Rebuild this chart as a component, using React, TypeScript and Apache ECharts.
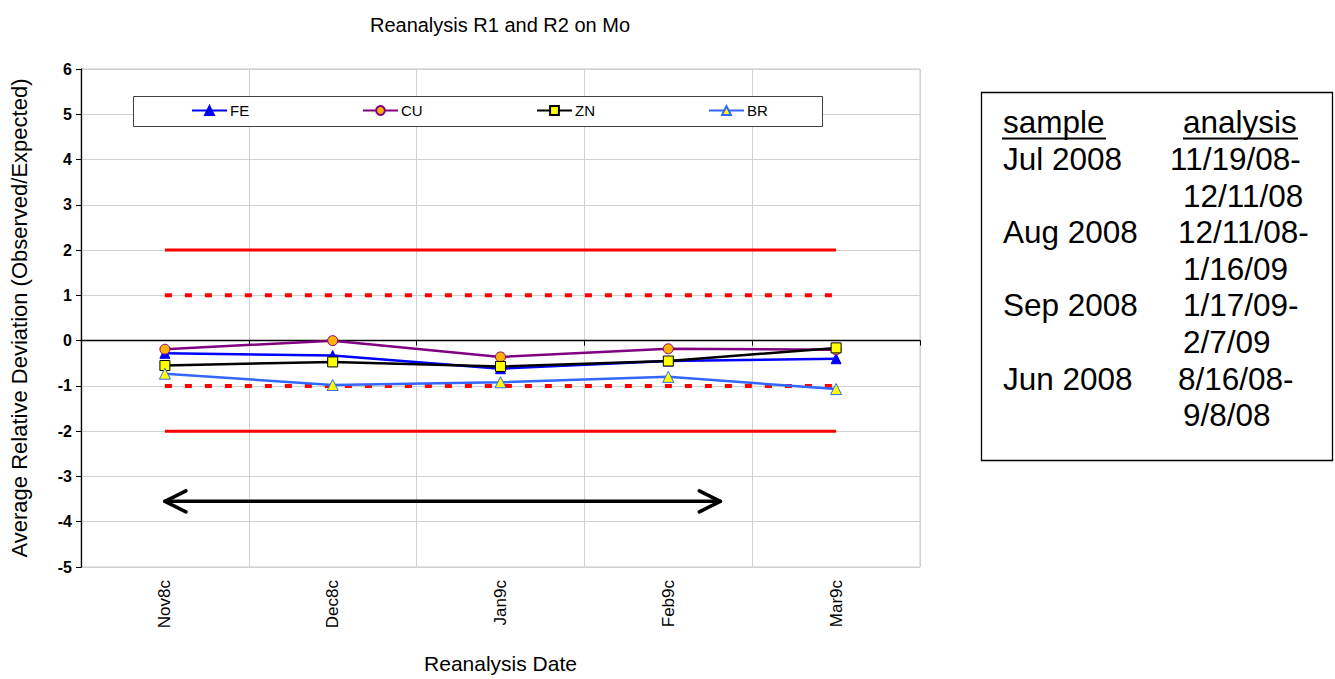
import React, { useEffect, useRef } from "react";
import * as echarts from "echarts";

const categories = ["Nov8c", "Dec8c", "Jan9c", "Feb9c", "Mar9c"];
const feValues = [-0.28, -0.33, -0.62, -0.45, -0.4];
const cuValues = [-0.19, 0.0, -0.36, -0.18, -0.2];
const znValues = [-0.55, -0.47, -0.57, -0.45, -0.16];
const brValues = [-0.73, -0.98, -0.92, -0.8, -1.07];
const upperLimit = [2, 2, 2, 2, 2];
const upperWarn = [1, 1, 1, 1, 1];
const lowerWarn = [-1, -1, -1, -1, -1];
const lowerLimit = [-2, -2, -2, -2, -2];
// arrow: [startIndex, endIndex, value]
const arrowSpan = [[0, 3.31, -3.55]];

const sampleHeader = "sample";
const analysisHeader = "analysis";
const sampleLabels = ["Jul 2008", "Aug 2008", "Sep 2008", "Jun 2008"];
const analysisFirst = ["11/19/08-", "12/11/08-", "1/17/09-", "8/16/08-"];
const analysisSecond = ["12/11/08", "1/16/09", "2/7/09", "9/8/08"];

const FONT = '"Liberation Sans", Arial, sans-serif';

export default function App() {
  const ref = useRef<HTMLDivElement>(null);
  useEffect(() => {
    if (!ref.current) return;
    const chart = echarts.init(ref.current, undefined, { renderer: "svg" });

    const legendLefts = [191, 362, 536, 708];
    const legendNames = ["FE", "CU", "ZN", "BR"];

    const refLine = (data: number[], dashed: boolean) => ({
      type: "line",
      data,
      xAxisIndex: 0,
      yAxisIndex: 0,
      symbol: "none",
      silent: true,
      z: 1,
      lineStyle: {
        color: "#ff0000",
        width: dashed ? 4 : 3,
        type: dashed ? [7, 13] : "solid",
      },
    });

    const boxTexts: any[] = [];
    const rowBase = 170;
    const rowStep = 36.6;
    const boxFont = 31.5;
    const firstLefts = [1170, 1178, 1183, 1178];
    const txt = (text: string, x: number, baseline: number) => ({
      type: "text",
      x,
      y: baseline - 0.3465 * boxFont,
      style: { text, font: `${boxFont}px ${FONT}`, fill: "#000", verticalAlign: "middle" },
    });
    boxTexts.push(txt(sampleHeader, 1003, 133));
    boxTexts.push(txt(analysisHeader, 1183, 133));
    boxTexts.push({
      type: "line",
      shape: { x1: 1002, y1: 138.5, x2: 1106, y2: 138.5 },
      style: { stroke: "#000", lineWidth: 2 },
    });
    boxTexts.push({
      type: "line",
      shape: { x1: 1183, y1: 138.5, x2: 1298, y2: 138.5 },
      style: { stroke: "#000", lineWidth: 2 },
    });
    sampleLabels.forEach((s, i) => {
      const b1 = rowBase + rowStep * 2 * i;
      const b2 = b1 + rowStep;
      boxTexts.push(txt(s, 1003, b1));
      boxTexts.push(txt(analysisFirst[i], firstLefts[i], b1));
      boxTexts.push(txt(analysisSecond[i], 1183, b2));
    });

    chart.setOption({
      animation: false,
      backgroundColor: "#ffffff",
      textStyle: { fontFamily: FONT },
      title: {
        text: "Reanalysis R1 and R2 on Mo",
        left: 495,
        top: 10,
        textAlign: "center",
        textStyle: { fontSize: 20, fontWeight: "normal", color: "#000", fontFamily: FONT },
      },
      legend: legendNames.map((n, i) => ({
        data: [n],
        left: legendLefts[i],
        top: 103,
        itemWidth: 35,
        itemHeight: 11,
        itemGap: 4,
        padding: 0,
        selectedMode: false,
        textStyle: { fontSize: 15, color: "#000", fontFamily: FONT, padding: [0, 0, 0, -2] },
      })),
      grid: {
        left: 70,
        top: 69,
        width: 850,
        height: 515,
        show: true,
        borderColor: "#c8c8c8",
        borderWidth: 1,
        backgroundColor: "transparent",
      },
      xAxis: [
        {
          type: "category",
          data: categories,
          boundaryGap: true,
          axisLine: { onZero: true, lineStyle: { color: "#000", width: 1.3 } },
          axisTick: { show: true, interval: 0, length: 5, lineStyle: { color: "#000" } },
          axisLabel: { show: false },
          splitLine: { show: true, interval: 0, lineStyle: { color: "#d0d0d0", width: 1 } },
        },
        {
          type: "category",
          data: categories,
          position: "bottom",
          boundaryGap: true,
          axisLine: { show: false },
          axisTick: { show: false },
          splitLine: { show: false },
          axisLabel: {
            rotate: 90,
            margin: 13,
            fontSize: 17,
            color: "#000",
            fontFamily: FONT,
            interval: 0,
          },
          name: "Reanalysis Date",
          nameLocation: "middle",
          nameGap: 86,
          nameTextStyle: { fontSize: 21, color: "#000", fontFamily: FONT },
        },
        {
          type: "value",
          min: -0.5,
          max: 4.5,
          show: false,
        },
      ],
      yAxis: {
        type: "value",
        min: -5,
        max: 6,
        interval: 1,
        axisLine: { show: true, onZero: false, lineStyle: { color: "#000", width: 1.3 } },
        axisTick: { show: true, length: 5, lineStyle: { color: "#000" } },
        axisLabel: { fontSize: 16, fontWeight: "bold", color: "#000", margin: 9, fontFamily: FONT },
        splitLine: { show: true, lineStyle: { color: "#d0d0d0", width: 1 } },
        name: "Average Relative Deviation (Observed/Expected)",
        nameLocation: "middle",
        nameGap: 51,
        nameTextStyle: { fontSize: 22, color: "#000", fontFamily: FONT },
      },
      graphic: [
        {
          type: "rect",
          z: 3,
          shape: { x: 133.5, y: 96.5, width: 689, height: 30 },
          style: { fill: "#fff", stroke: "#404040", lineWidth: 1 },
        },
        {
          type: "rect",
          shape: { x: 981.5, y: 92.5, width: 351, height: 368 },
          style: { fill: "#fff", stroke: "#000", lineWidth: 1.3 },
        },
        ...boxTexts,
      ],
      series: [
        refLine(upperLimit, false),
        refLine(upperWarn, true),
        refLine(lowerWarn, true),
        refLine(lowerLimit, false),
        {
          name: "FE",
          type: "line",
          data: feValues,
          symbol: "triangle",
          symbolSize: 10,
          z: 5,
          lineStyle: { color: "#0000ff", width: 2.5 },
          itemStyle: { color: "#0000ff", borderColor: "#0000ff", borderWidth: 1 },
        },
        {
          name: "CU",
          type: "line",
          data: cuValues,
          symbol: "circle",
          symbolSize: 10,
          z: 5,
          lineStyle: { color: "#800080", width: 2.5 },
          itemStyle: { color: "#ffb300", borderColor: "#800080", borderWidth: 1 },
        },
        {
          name: "ZN",
          type: "line",
          data: znValues,
          symbol: "rect",
          symbolSize: 10,
          z: 5,
          lineStyle: { color: "#000000", width: 2.5 },
          itemStyle: { color: "#ffff00", borderColor: "#000000", borderWidth: 1 },
        },
        {
          name: "BR",
          type: "line",
          data: brValues,
          symbol: "triangle",
          symbolSize: 11,
          z: 5,
          lineStyle: { color: "#3366ff", width: 2.5 },
          itemStyle: { color: "#ffff00", borderColor: "#3366ff", borderWidth: 1 },
        },
        {
          type: "custom",
          xAxisIndex: 2,
          yAxisIndex: 0,
          silent: true,
          z: 6,
          data: arrowSpan,
          renderItem: (params: any, api: any) => {
            const p1 = api.coord([api.value(0), api.value(2)]);
            const p2 = api.coord([api.value(1), api.value(2)]);
            const style = { stroke: "#000", lineWidth: 3.5, lineCap: "round", lineJoin: "round", fill: "none" };
            return {
              type: "group",
              children: [
                { type: "line", shape: { x1: p1[0], y1: p1[1], x2: p2[0], y2: p2[1] }, style },
                {
                  type: "polyline",
                  shape: { points: [[p1[0] + 21, p1[1] - 10.5], [p1[0], p1[1]], [p1[0] + 21, p1[1] + 10.5]] },
                  style,
                },
                {
                  type: "polyline",
                  shape: { points: [[p2[0] - 21, p2[1] - 10.5], [p2[0], p2[1]], [p2[0] - 21, p2[1] + 10.5]] },
                  style,
                },
              ],
            };
          },
        },
      ],
    });
    return () => chart.dispose();
  }, []);
  return (
    <div
      ref={ref}
      style={{ position: "fixed", left: 0, top: 0, width: 1335, height: 679, background: "#fff" }}
    />
  );
}
